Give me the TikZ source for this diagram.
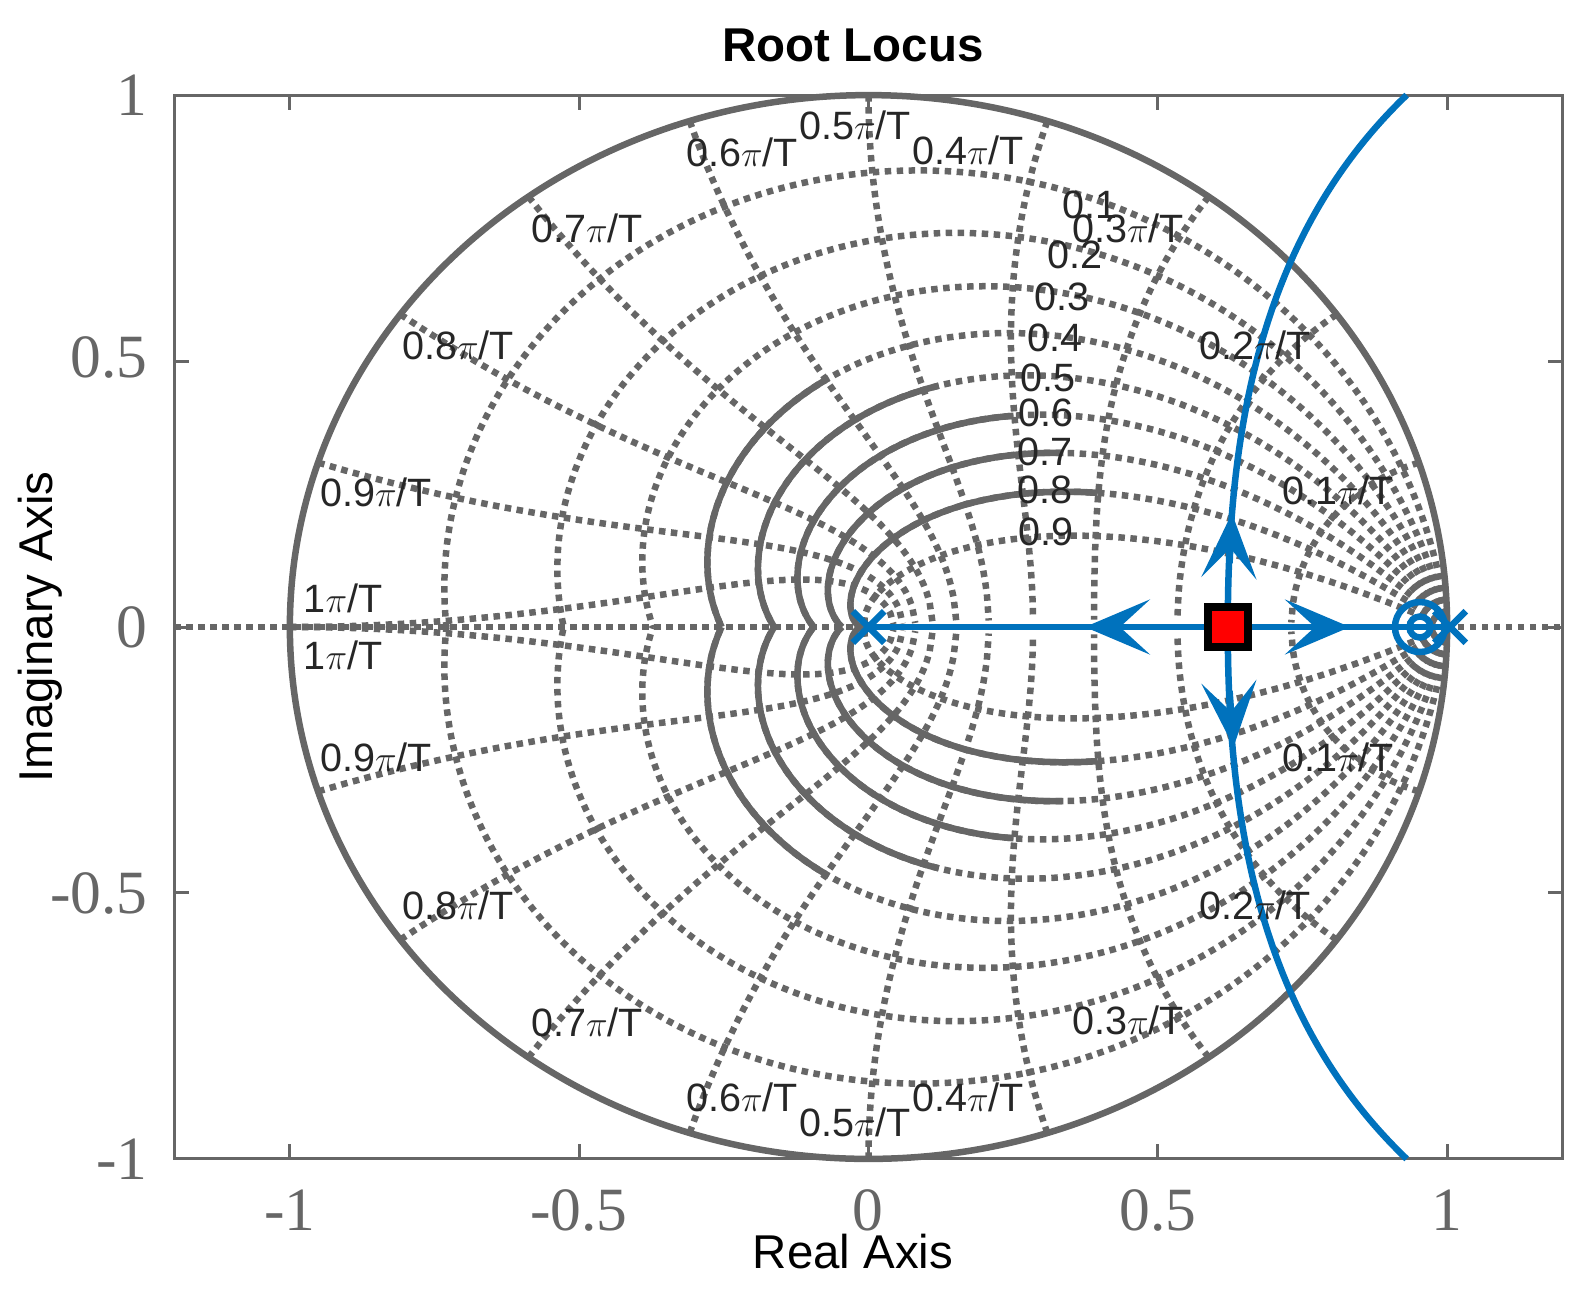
\documentclass[tikz,border=0pt]{standalone}
\usepackage{fontspec}
\setmainfont{Liberation Sans}
\newfontfamily\tickfont{Liberation Serif}
\usetikzlibrary{arrows.meta,shapes.misc}
\definecolor{gridgray}{RGB}{102,102,102}
\definecolor{labgray}{RGB}{38,38,38}
\definecolor{locblue}{RGB}{0,114,189}
\tikzset{
  grid solid/.style={gridgray, line width=0.13cm},
  grid dot/.style={gridgray, line width=0.13cm, dash pattern=on 0.13cm off 0.11cm},
  gridlab/.style={labgray, font=\fontsize{22.5}{24}\selectfont, inner sep=0pt},
  ticklab/.style={gridgray, font=\tickfont\fontsize{35}{37}\selectfont, inner sep=0pt},
  locus/.style={locblue, line width=0.13cm},
  dir/.style={locblue, line width=0.13cm, -{Stealth[length=1.3cm, width=1.1cm, inset=0.6cm]}},
  pole/.style={cross out, draw=locblue, line width=0.13cm, minimum size=0.5cm, inner sep=0pt},
  zero/.style={circle, draw=locblue, line width=0.13cm, inner sep=0pt},
}
\begin{document}
\begin{tikzpicture}[x=0.02cm, y=-0.02cm]
\useasboundingbox (0,0) rectangle (1586,1306);
\begin{scope}[shift={(868.5,627)}, x=11.575cm, y=10.64cm]
  % axes box
  \coordinate (bl) at (-1.2,-1);
  \coordinate (tr) at (1.2,1);
  % natural frequency curves
  \foreach \k in {1,...,10}{
    \pgfmathsetmacro{\w}{\k*pi/10}
    \draw[grid dot] plot[domain=0:1, samples=60]
      ({exp(-\w*\x)*cos(deg(\w*sqrt(1-\x*\x)))}, {exp(-\w*\x)*sin(deg(\w*sqrt(1-\x*\x)))});
    \draw[grid dot] plot[domain=0:1, samples=60]
      ({exp(-\w*\x)*cos(deg(\w*sqrt(1-\x*\x)))}, {-exp(-\w*\x)*sin(deg(\w*sqrt(1-\x*\x)))});
  }
  % damping curves
  \foreach \z in {0.1,0.2,...,0.9}{
    \pgfmathsetmacro{\a}{\z/sqrt(1-\z*\z)}
    \draw[grid dot] plot[domain=0:180, samples=120]
      ({exp(-\a*\x*pi/180)*cos(\x)}, {exp(-\a*\x*pi/180)*sin(\x)});
    \draw[grid dot] plot[domain=0:180, samples=120]
      ({exp(-\a*\x*pi/180)*cos(\x)}, {-exp(-\a*\x*pi/180)*sin(\x)});
  }
  \foreach \z in {0.4,0.5,...,0.9}{
    \pgfmathsetmacro{\a}{\z/sqrt(1-\z*\z)}
    \pgfmathsetmacro{\ts}{43.3/\a}
    \draw[grid solid] plot[domain=\ts:180, samples=60]
      ({exp(-\a*\x*pi/180)*cos(\x)}, {exp(-\a*\x*pi/180)*sin(\x)});
    \draw[grid solid] plot[domain=\ts:180, samples=60]
      ({exp(-\a*\x*pi/180)*cos(\x)}, {-exp(-\a*\x*pi/180)*sin(\x)});
  }
  \draw[grid solid] (0,0) ellipse [x radius=1, y radius=1];
  \draw[grid dot] (-1.2,0) -- (1.2,0);
  % frame and ticks
  \draw[gridgray, line width=0.06cm] (bl) rectangle (tr);
  \foreach \t in {-1,-0.5,0,0.5,1}{
    \draw[gridgray, line width=0.06cm] (\t,-1) -- (\t,-0.972);
    \draw[gridgray, line width=0.06cm] (\t,1) -- (\t,0.972);
    \draw[gridgray, line width=0.06cm] (-1.2,\t/1) -- (-1.174,\t/1);
    \draw[gridgray, line width=0.06cm] (1.2,\t/1) -- (1.174,\t/1);
  }
  % root locus
  \node[pole] (p0) at (0,0) {};
  \node[pole] (p1) at (1.005,0) {};
  \node[zero, minimum size=1cm] (z1) at (0.953,0) {};
  \node[zero, minimum size=0.42cm] (z2) at (0.953,0) {};
  \coordinate (up) at (0.93,1);
  \coordinate (dn) at (0.93,-1);
  \coordinate (bk) at (0.621,0);
  \draw[locus] (p0.center) -- (p1.center);
  \draw[locus] (bk) .. controls (0.62,0.4) and (0.69,0.75) .. (up);
  \draw[locus] (bk) .. controls (0.62,-0.4) and (0.69,-0.75) .. (dn);
  \draw[dir] (0.45,0) -- (0.374,0);
  \draw[dir] (0.75,0) -- (0.832,0);
  \draw[dir] (0.624,0.12) -- (0.628,0.214);
  \draw[dir] (0.624,-0.12) -- (0.631,-0.225);
  \node[draw=black, fill=red, line width=0.16cm, minimum size=0.8cm, inner sep=0pt] (sq) at (bk) {};
\end{scope}
% tick labels
\foreach \v/\py in {1/95,0.5/357,0/627,-0.5/893,-1/1159}
  \node[ticklab, anchor=east] at (148,\py) {\v};
\foreach \v/\px in {-1/290,-0.5/579,0/868,0.5/1158,1/1447}
  \node[ticklab] at (\px,1210) {\v};
% titles
\node[font=\bfseries\fontsize{27}{29}\selectfont] (title) at (853,45) {Root Locus};
\node[font=\fontsize{27}{29}\selectfont] (xlab) at (853,1252) {Real Axis};
\node[font=\fontsize{27}{29}\selectfont, rotate=90] (ylab) at (40,627) {Imaginary Axis};
% grid labels
\foreach \s/\px/\py in {0.5/855/125, 0.4/968/150, 0.6/742/152, 0.3/1128/228, 0.7/587/228,
  0.2/1255/345, 0.8/458/345, 0.1/1338/490, 0.9/376/492, 1/343/598,
  1/343/655, 0.9/376/757, 0.1/1338/757, 0.8/458/905, 0.2/1255/905,
  0.7/587/1022, 0.3/1128/1020, 0.6/742/1097, 0.4/968/1097, 0.5/855/1122}
  \node[gridlab] at (\px,\py) {\s$\pi$/T};
\foreach \s/\px/\py in {0.1/1090/205, 0.2/1075/255, 0.3/1062/297, 0.4/1055/338,
  0.5/1048/378, 0.6/1046/413, 0.7/1045/452, 0.8/1045/490, 0.9/1046/532}
  \node[gridlab] at (\px,\py) {\s};
\end{tikzpicture}
\end{document}
